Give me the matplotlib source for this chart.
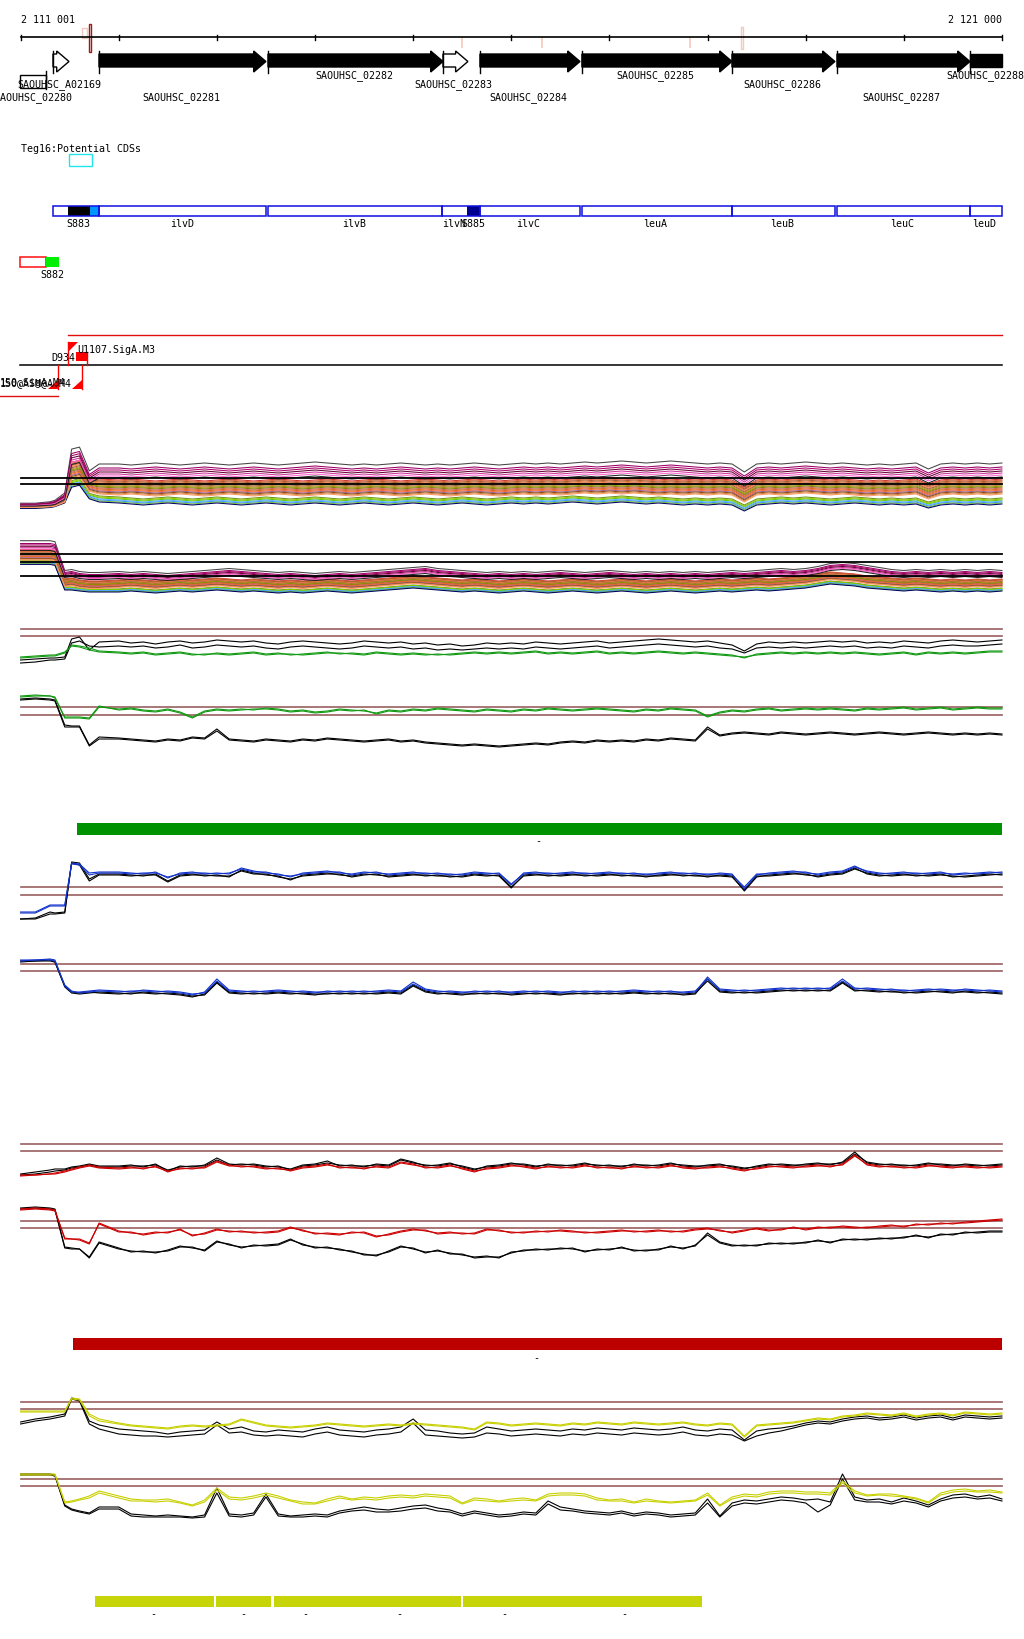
import matplotlib
matplotlib.use("Agg")
import matplotlib.pyplot as plt
from matplotlib.patches import Polygon, Rectangle

# ======================= DATA =======================
REGION_START = 2111001
REGION_END = 2121000
ruler_ticks = [2111001, 2112000, 2113000, 2114000, 2115000, 2116000, 2117000,
               2118000, 2119000, 2120000, 2121000]
ruler_labels = ["2 111 001", "2 121 000"]

gene_names = ["SAOUHSC_A02169", "SAOUHSC_02281", "SAOUHSC_02282", "SAOUHSC_02283",
              "SAOUHSC_02284", "SAOUHSC_02285", "SAOUHSC_02286", "SAOUHSC_02287",
              "SAOUHSC_02288"]
gene_starts = [2111330, 2111799, 2113521, 2115304, 2115681, 2116720, 2118249, 2119319, 2120674]
gene_ends = [2111493, 2113500, 2115304, 2115558, 2116700, 2118249, 2119298, 2120674, 2121000]
gene_filled = [False, True, True, False, True, True, True, True, True]
gene_head = [True, True, True, True, True, True, True, True, False]
gene_label_pos = [2111391, 2112636, 2114399, 2115408, 2116172, 2117466, 2118760, 2119973, 2120830]
gene_label_row = [1, 2, 0, 1, 2, 0, 1, 2, 0]
partial_gene = "SAOUHSC_02280"
partial_start, partial_end, partial_label_pos = 2110994, 2111259, 2111126

teg_title = "Teg16:Potential CDSs"
teg_names = ["", "ilvD", "ilvB", "ilvN", "ilvC", "leuA", "leuB", "leuC", "leuD"]
teg_starts = [2111330, 2111799, 2113521, 2115294, 2115681, 2116720, 2118249, 2119319, 2120674]
teg_ends = [2111799, 2113500, 2115294, 2115681, 2116700, 2118249, 2119298, 2120674, 2121000]
teg_label_pos = [0, 2112646, 2114399, 2115416, 2116172, 2117466, 2118760, 2119983, 2120819]
srna_names = ["S883", "", "S885"]
srna_starts = [2111483, 2111707, 2115548]
srna_ends = [2111707, 2111799, 2115681]
srna_colors = ["#000000", "#0096FF", "#000090"]
srna_label_pos = [2111585, 0, 2115610]
cds_box = (2111493, 2111727)
s882_red = (2110994, 2111259)
s882_green = (2111259, 2111391)
s882_label_pos = 2111320

prom_labels = ["U1107.SigA.M3", "D934", "150.SigA.M4", "1S0@ASM@A.M4"]

ruler_marks_pale = [(2111625, 2111677), (2115488, 2115508), (2116303, 2116323),
                    (2117811, 2117831), (2118336, 2118366)]
ruler_mark_dark = (2111697, 2111717)

green_bar = (2111575, 2121000)
red_bar = (2111534, 2121000)
yellow_bars = [(2111758, 2112971), (2112991, 2113552), (2113582, 2115488), (2115508, 2117943)]
yellow_dash_pos = [2112350, 2113267, 2113899, 2114857, 2115927, 2117150]
green_dash_pos = 2116275
red_dash_pos = 2116254

# signal profiles are sampled at these genome positions (82 windows)
grid_bp = [2111000, 2111150, 2111300, 2111350, 2111450, 2111520, 2111600, 2111700, 2111800,
           2112000, 2112125, 2112250, 2112375, 2112500, 2112625, 2112750, 2112875, 2113000, 2113125,
           2113250, 2113375, 2113500, 2113625, 2113750, 2113875, 2114000, 2114125, 2114250, 2114375,
           2114500, 2114625, 2114750, 2114875, 2115000, 2115125, 2115250, 2115375, 2115500, 2115625,
           2115750, 2115875, 2116000, 2116125, 2116250, 2116375, 2116500, 2116625, 2116750, 2116875,
           2117000, 2117125, 2117250, 2117375, 2117500, 2117625, 2117750, 2117875, 2118000, 2118125,
           2118250, 2118375, 2118500, 2118625, 2118750, 2118875, 2119000, 2119125, 2119250, 2119375,
           2119500, 2119625, 2119750, 2119875, 2120000, 2120125, 2120250, 2120375, 2120500, 2120625,
           2120750, 2120875, 2121000]

# ---- track 1 / 2 : many conditions, three level groups ----
t1_hi = [14,14,15,16,22,60,62,40,46] + [
    46,45,46,47,46,45,46,47,46,45, 46,47,46,45,46,47,48,47,46,45,
    46,45,46,47,46,45,46,45,46,47, 46,45,46,47,46,47,46,47,48,47,
    48,49,48,47,48,49,48,47,46,47, 46,38,46,47,46,47,48,47,46,47,
    46,45,46,45,46,47,41,46,47,46, 47,46,47]
t1_mid = [13,13,14,15,20,48,50,34,32] + [
    31,32,31,30,31,32,31,30,31,32, 31,30,31,32,31,30,31,32,31,30,
    31,32,31,30,31,32,31,30,31,32, 31,30,31,32,31,32,31,32,33,32,
    33,32,33,32,31,32,31,32,31,32, 31,24,31,32,31,32,33,32,31,32,
    31,30,31,30,31,32,27,31,32,31, 32,31,32]
t1_lo = [11,11,12,13,17,34,36,22,19] + [
    18,17,16,17,18,17,16,17,18,17, 16,17,18,17,16,17,18,17,16,17,
    18,17,16,17,18,17,16,17,18,17, 16,17,18,17,18,17,18,19,18,17,
    18,19,18,17,18,17,16,17,16,17, 16,10,16,17,18,17,18,17,16,17,
    18,17,16,17,16,17,13,16,17,16, 17,16,17]
t1_spread = [0.2, 0.2, 0.25, 0.3, 0.45, 1.1, 1.1, 0.9, 1.0] + [1.0] * 73
t2_hi = [52,52,52,51,24,25,23,22,22] + [
    23,22,23,22,21,22,23,24,25,26, 25,24,23,22,23,22,21,22,23,22,
    23,24,25,26,27,28,26,25,24,23, 22,23,22,23,22,23,24,23,22,23,
    24,23,22,23,22,23,22,23,22,23, 24,23,24,25,26,25,26,28,31,32,
    31,29,27,25,24,25,24,25,24,25, 24,25,24]
t2_mid = [44,44,44,43,16,17,15,14,14] + [
    15,16,15,14,15,16,15,16,17,16, 15,16,15,14,15,14,15,16,15,14,
    15,16,17,18,19,18,17,16,15,16, 15,14,15,16,15,14,15,16,15,14,
    15,16,15,14,15,16,15,14,15,16, 15,16,17,16,17,18,19,21,23,22,
    21,19,18,17,16,17,16,15,16,15, 16,15,16]
t2_lo = [36,36,36,35,10,10,9,8,8] + [
    8,9,8,7,8,9,8,9,10,9, 8,9,8,7,8,7,8,9,8,7,
    8,9,10,11,12,11,10,9,8,9, 8,7,8,9,8,7,8,9,8,7,
    8,9,8,7,8,9,8,7,8,9, 8,9,10,9,10,11,12,14,16,15,
    14,12,11,10,9,10,9,8,9,8, 9,8,9]
t2_spread = [0.7, 0.7, 0.7, 0.7] + [0.5] * 78
hi_offsets = [9, 5, 3, 1, -1, -3, -5]
hi_colors = ['#454545', '#990066', '#B0006A', '#660033', '#CC3399', '#FF66CC', '#222222']
mid_offsets = [8, 7, 6, 5, 4, 3, 2, 1, 0, -1, -2, -3, -4, -5, -6, -7]
mid_colors = ['#CC3333', '#E0603A', '#A05A2C', '#CC6633', '#FF7F50', '#996633', '#C08040',
              '#999900', '#808000', '#CC6666', '#D2691E', '#FF6633', '#996699', '#8B4513',
              '#CD853F', '#FF9966']
lo_offsets = [4, 3, 2, 1, 0, -1, -2]
lo_colors = ['#6B8E23', '#99CC00', '#66CC00', '#66B2FF', '#3399FF', '#7FBF3F', '#000066']
ref1 = [41, 35]
ref2 = [45, 37, 23]

# ---- track 3 / 4 : green condition vs black ----
t3_black_a = [19,20,21,21,22,40,42,29,37] + [
    38,36,37,35,37,38,36,37,39,38, 37,38,36,35,37,38,37,36,35,36,
    38,37,36,37,35,36,34,35,33,34, 36,35,36,35,37,36,35,36,37,38,
    36,37,38,39,40,39,38,37,38,36, 34,28,35,37,36,37,36,37,38,37,
    38,36,37,36,38,37,36,38,39,38, 37,38,39]
t3_black_b = [16,17,19,19,20,36,38,33,32] + [
    33,32,33,31,32,34,31,32,34,33, 32,33,31,30,32,33,32,31,30,31,
    33,32,31,32,30,31,29,30,29,30, 31,30,31,30,32,31,30,31,32,33,
    31,32,33,34,35,34,33,32,33,31, 30,26,31,32,31,32,31,32,33,32,
    33,31,32,31,33,32,31,33,34,33, 33,34,35]
t3_green_a = [21,22,23,23,26,34,33,31,28] + [
    27,26,27,25,26,27,25,24,26,25, 26,27,25,26,24,25,26,27,25,26,
    25,27,26,25,26,25,24,25,26,27, 26,27,26,27,28,26,27,26,27,28,
    26,27,26,27,28,27,26,27,26,25, 24,21,25,26,27,26,27,26,27,26,
    27,26,25,26,27,25,27,26,27,26, 27,28,28]
t3_green_b = [22,23,24,24,27,33,32,29,27] + [
    26,25,26,24,25,26,24,25,25,24, 25,26,24,25,25,24,25,26,26,25,
    24,26,25,24,25,24,25,24,25,26, 25,26,25,26,27,25,26,25,26,27,
    25,26,25,26,27,26,25,26,25,24, 23,22,24,25,26,25,26,25,26,25,
    26,25,24,25,26,24,26,25,26,25, 26,27,27]
t3_ref = [50, 43]
t4_green_a = [53,54,53,52,31,31,31,30,42] + [
    40,41,39,38,40,37,32,38,40,39, 40,39,41,40,38,39,37,38,40,39,
    38,36,39,38,40,39,41,40,39,38, 40,39,38,40,39,41,40,39,40,41,
    40,39,38,40,39,41,40,39,33,37, 39,38,40,41,39,40,41,40,41,40,
    39,41,40,41,42,40,41,42,40,41, 42,41,41]
t4_green_b = [52,53,53,51,32,32,32,31,43] + [
    39,40,38,37,39,36,31,37,39,38, 39,40,40,39,37,38,36,37,39,38,
    39,35,38,37,39,38,40,39,38,37, 39,38,37,39,38,40,39,38,39,40,
    39,38,37,39,38,40,39,38,32,36, 38,37,39,40,38,39,40,39,40,39,
    38,40,39,40,41,39,40,41,39,40, 41,40,40]
t4_black_a = [50,51,50,49,24,23,23,4,12] + [
    11,10,9,8,10,9,12,11,20,10, 9,8,10,9,8,10,9,11,10,9,
    8,9,10,8,9,7,6,5,4,5, 4,3,4,5,6,5,7,8,7,9,
    8,9,8,10,9,11,10,9,22,14, 16,17,16,15,17,16,15,16,17,16,
    15,16,17,16,15,16,17,16,15,16, 15,16,15]
t4_black_b = [49,50,49,48,22,22,22,3,10] + [
    10,9,8,7,9,8,11,10,18,9, 8,7,9,8,7,9,8,10,9,8,
    7,8,9,7,8,6,5,4,3,4, 3,2,3,4,5,4,6,7,6,8,
    7,8,7,9,8,10,9,8,20,13, 15,16,15,14,16,15,14,15,16,15,
    14,15,16,15,14,15,16,15,14,15, 14,15,14]
t4_ref = [42, 34]

# ---- track 5 / 6 : blue condition vs black ----
t5_blue_a = [17,17,24,24,24,66,65,56,57] + [
    57,56,55,57,51,56,57,55,56,55, 61,58,56,55,52,56,57,58,56,55,
    57,56,55,56,57,55,56,54,55,57, 56,55,44,56,57,55,56,57,55,56,
    57,55,56,54,56,57,55,56,54,56, 55,40,54,56,57,58,56,55,57,58,
    63,57,55,56,57,55,56,57,54,55, 56,57,56]
t5_blue_b = [16,16,23,23,23,65,64,54,56] + [
    56,55,56,56,52,55,56,56,55,56, 60,57,57,54,53,55,56,57,57,54,
    56,57,54,55,56,56,55,55,54,56, 55,56,45,55,56,56,55,56,56,55,
    56,56,55,55,55,56,56,55,55,55, 54,42,55,55,56,57,57,54,56,57,
    62,58,56,55,56,56,55,56,55,56, 55,56,57]
t5_black_a = [10,11,17,16,17,67,66,50,55] + [
    55,54,53,55,48,54,55,53,54,52, 59,56,54,53,49,54,55,56,54,53,
    55,54,53,54,55,53,54,52,53,55, 54,53,41,54,55,53,54,55,53,54,
    55,53,54,52,54,55,53,54,52,54, 53,38,52,54,55,56,54,53,55,56,
    61,55,53,54,55,53,54,55,52,53, 54,55,54]
t5_black_b = [10,10,15,15,16,66,64,48,54] + [
    54,53,54,54,47,53,54,54,53,53, 58,55,55,52,50,53,54,55,55,52,
    54,55,52,53,54,54,53,53,52,54, 53,54,42,53,54,54,53,54,54,53,
    54,54,53,53,53,54,54,53,53,53, 52,39,53,53,54,55,55,52,54,55,
    60,56,54,53,54,54,53,54,53,52, 53,54,55]
t5_ref = [42, 34]
t6_blue_a = [49,49,50,49,23,17,17,18,19] + [
    18,17,19,18,17,16,14,17,30,19, 18,17,18,19,18,17,16,18,17,18,
    17,18,19,18,27,20,18,17,16,18, 17,18,16,17,18,17,16,18,17,18,
    17,18,19,18,17,18,16,17,32,20, 19,18,19,20,21,20,21,20,21,30,
    21,20,19,20,18,19,20,19,18,20, 19,18,17]
t6_blue_b = [48,49,49,48,24,18,16,17,18] + [
    17,18,18,17,18,17,15,16,28,18, 17,18,17,18,17,18,17,17,18,17,
    18,17,18,17,25,19,17,18,17,17, 18,17,17,18,17,18,17,17,18,17,
    18,17,18,17,18,17,17,18,30,19, 18,19,18,19,20,21,20,21,20,28,
    20,21,20,19,19,18,19,20,19,19, 18,19,18]
t6_black_a = [48,48,49,47,22,16,15,16,17] + [
    16,15,17,16,15,14,12,15,27,17, 16,15,16,17,16,15,14,16,15,16,
    15,16,17,16,24,18,16,15,14,16, 15,16,14,15,16,15,14,16,15,16,
    15,16,17,16,15,16,14,15,30,18, 17,16,17,18,19,18,19,18,19,27,
    19,18,17,18,16,17,18,17,16,18, 17,16,15]
t6_black_b = [47,48,48,47,23,17,16,17,16] + [
    15,16,16,15,16,15,13,14,26,16, 15,16,15,16,15,16,15,15,16,15,
    16,15,16,15,23,17,15,16,15,15, 16,15,15,16,15,16,15,15,16,15,
    16,15,16,15,16,15,15,16,28,17, 16,17,16,17,18,19,18,19,18,26,
    18,19,18,17,17,16,17,18,17,17, 16,17,16]
t6_ref = [45, 38]

# ---- track 7 / 8 : red condition vs black ----
t7_red_a = [14,14,15,16,18,20,22,24,22] + [
    21,22,20,23,17,21,20,22,28,24, 22,23,21,20,19,22,23,25,21,22,
    20,23,22,27,25,21,22,24,20,17, 21,22,24,22,20,23,21,22,24,21,
    22,20,23,21,22,24,21,20,22,23, 20,18,21,23,22,21,23,24,22,25,
    34,24,22,23,21,22,24,22,21,23, 22,21,22]
t7_red_b = [13,14,15,15,17,19,21,23,21] + [
    20,21,21,22,18,20,21,21,27,23, 23,22,20,21,18,21,22,24,22,21,
    21,22,21,26,24,22,21,23,21,18, 20,21,23,23,21,22,22,21,23,22,
    21,21,22,22,21,23,22,21,21,22, 21,19,20,22,23,22,22,23,23,24,
    33,25,23,22,22,21,23,23,22,22, 21,22,23]
t7_black_a = [15,17,19,20,20,22,23,25,23] + [
    23,24,22,25,18,23,22,24,31,25, 24,25,23,22,20,24,25,28,23,24,
    22,25,24,30,27,23,24,26,22,19, 23,24,26,24,22,25,23,24,26,23,
    24,22,25,23,24,26,23,22,24,25, 22,20,23,25,24,23,25,26,24,27,
    37,26,24,25,23,24,26,24,23,25, 24,23,24]
t7_black_b = [14,15,17,18,19,21,22,24,22] + [
    22,23,23,24,19,22,23,23,29,24, 25,24,22,23,19,23,24,26,24,23,
    23,24,23,29,26,24,23,25,23,20, 22,23,25,25,23,24,24,23,25,24,
    23,23,24,24,23,25,24,23,23,24, 23,21,22,24,25,24,24,25,25,26,
    35,27,25,24,24,23,25,25,24,24, 23,24,25]
t7_ref = [45, 38]
t8_red_a = [60,61,60,59,30,30,29,25,46] + [
    38,36,35,37,36,40,33,36,40,37, 38,36,37,38,42,38,36,35,34,37,
    36,32,35,38,40,38,36,37,35,36, 40,38,37,36,38,37,39,38,36,37,
    38,39,37,38,39,37,38,40,41,38, 37,39,40,38,40,41,40,42,41,43,
    42,41,43,44,42,45,44,46,45,47, 48,49,50]
t8_red_b = [59,60,59,58,31,30,30,26,45] + [
    37,37,34,36,37,39,34,35,39,38, 37,37,36,37,41,39,35,36,35,36,
    37,33,34,37,39,39,35,36,36,35, 39,39,36,37,37,38,38,37,37,36,
    37,38,38,37,38,38,37,39,40,39, 36,38,41,39,39,42,39,41,42,42,
    41,42,42,43,43,44,45,45,46,46, 47,48,49]
t8_black_a = [61,62,61,60,22,21,20,12,27] + [
    21,17,18,16,19,23,21,19,28,24, 22,23,24,25,30,24,22,21,20,17,
    15,13,18,23,20,17,18,16,14,12, 13,11,17,18,20,19,21,20,18,19,
    20,21,19,18,20,22,21,23,36,27, 24,23,24,25,26,25,27,28,27,29,
    30,29,31,30,32,33,32,34,35,36, 37,38,38]
t8_black_b = [60,61,60,59,21,20,20,11,26] + [
    20,18,17,17,18,22,22,18,27,25, 21,24,23,24,29,25,21,22,19,18,
    14,14,17,22,21,16,19,15,15,11, 12,12,16,19,19,20,20,21,17,20,
    19,22,18,19,19,23,20,24,34,26, 23,24,23,26,25,26,26,29,26,30,
    29,30,30,31,31,34,31,35,34,37, 36,37,37]
t8_ref = [48, 41]

# ---- track 9 / 10 : yellow condition vs black ----
t9_yel_a = [38,38,38,38,38,51,50,35,30] + [
    26,24,23,22,21,23,24,23,24,25, 30,27,24,23,22,23,24,26,25,24,
    23,24,25,24,26,25,24,23,22,20, 27,26,24,25,26,25,24,26,25,27,
    26,25,27,26,25,26,27,25,24,26, 25,13,24,25,26,27,29,31,30,33,
    34,36,35,34,36,33,35,36,34,37, 36,35,36]
t9_yel_b = [37,37,37,37,37,50,49,33,28] + [
    25,23,22,21,20,22,23,22,23,24, 29,26,23,22,21,22,23,25,24,23,
    22,23,24,23,25,24,23,22,21,19, 26,25,23,24,25,24,23,25,24,26,
    25,24,26,25,24,25,26,24,23,25, 24,12,23,24,25,26,28,30,29,32,
    33,35,34,33,35,32,34,35,33,36, 35,34,35]
t9_black_a = [27,30,32,33,35,51,49,28,24] + [
    20,19,18,17,15,17,18,19,27,20, 22,18,17,19,18,17,20,22,19,18,
    17,19,20,22,30,19,18,16,15,16, 22,20,18,19,20,19,18,20,19,21,
    20,19,21,20,19,20,22,19,18,20, 19,9,18,20,21,23,26,28,27,30,
    32,33,31,32,34,31,33,34,31,34, 33,32,33]
t9_black_b = [25,28,30,31,33,50,48,25,20] + [
    15,14,13,13,12,13,14,15,24,16, 17,14,13,14,13,12,15,17,14,13,
    12,14,15,17,26,14,13,12,11,12, 16,15,13,14,15,14,13,15,14,16,
    15,14,16,15,14,15,17,14,13,15, 14,8,13,16,18,21,24,26,25,28,
    30,31,29,30,32,29,31,32,29,32, 31,30,31]
t9_ref = [47, 40]
t10_yel_a = [55,55,55,55,27,28,30,33,38] + [
    33,30,29,29,30,27,24,29,41,32, 31,33,36,33,29,27,26,30,33,30,
    32,31,33,34,33,35,34,33,26,31, 30,28,30,31,29,35,36,36,35,31,
    29,30,27,30,28,27,28,29,36,24, 32,35,34,37,38,38,37,37,36,48,
    38,34,35,35,33,31,27,36,39,40, 38,39,37]
t10_yel_b = [54,54,54,54,26,27,29,31,36] + [
    31,28,28,27,28,26,23,27,39,30, 29,31,34,31,28,25,25,28,31,29,
    30,29,31,32,31,33,32,31,25,29, 28,27,28,29,28,33,34,34,33,29,
    28,28,26,28,27,26,27,28,34,23, 30,33,32,35,36,36,35,35,34,46,
    36,33,34,33,32,30,26,34,37,38, 37,37,36]
t10_black_a = [55,55,55,54,24,20,18,16,22] + [
    22,15,14,13,14,13,12,14,41,15, 14,16,35,15,13,14,15,14,18,20,
    22,20,19,21,23,24,21,19,15,18, 16,14,15,17,16,28,22,20,18,17,
    16,18,15,17,16,14,15,16,30,13, 26,29,28,30,32,31,29,30,27,55,
    32,29,30,27,31,28,24,30,34,35, 32,34,30]
t10_black_b = [54,54,54,53,23,19,17,15,20] + [
    20,13,12,12,12,12,11,12,36,13, 12,14,32,13,12,12,13,12,16,18,
    19,17,17,18,20,21,18,17,13,16, 14,12,13,15,14,25,19,18,16,15,
    14,16,13,15,14,12,13,14,26,12, 23,26,25,27,29,28,26,17,24,50,
    29,27,27,25,28,26,22,28,31,32, 30,31,28]
t10_ref = [50, 43]

# ======================= LAYOUT / STYLE =======================
W, H = 1024, 1640
X0_PIX = 20.7
BP_PER_PX = 10.19
XMIN = REGION_START - X0_PIX * BP_PER_PX
XMAX = REGION_START + (W - X0_PIX) * BP_PER_PX
FONT = dict(family="DejaVu Sans Mono", fontsize=7.2)
THR = "#9A5F5F"
LW = 0.8

fig = plt.figure(figsize=(W / 100, H / 100), dpi=100)
ax0 = fig.add_axes([0, 0, 1, 1])
ax0.set_xlim(XMIN, XMAX)
ax0.set_ylim(H, 0)
ax0.axis("off")

# ---- ruler ----
ax0.plot([REGION_START, REGION_END], [38, 38], color="black", lw=1.2)
for t in ruler_ticks:
    ax0.plot([t, t], [35.5, 41], color="black", lw=1)
ax0.text(REGION_START, 20, ruler_labels[0], ha="left", va="center", **FONT)
ax0.text(REGION_END, 20, ruler_labels[1], ha="right", va="center", **FONT)
for i, (s, e) in enumerate(ruler_marks_pale):
    if i == 0:
        ax0.add_patch(Rectangle((s, 29), e - s, 10, fill=False, ec="#F2C9BC", lw=1))
    elif i == len(ruler_marks_pale) - 1:
        ax0.add_patch(Rectangle((s, 28), e - s, 22, fill=False, ec="#F2C9BC", lw=1))
    else:
        ax0.add_patch(Rectangle((s, 38), e - s, 11, fc="#F4D2C6", ec="none"))
ax0.add_patch(Rectangle((ruler_mark_dark[0], 25), ruler_mark_dark[1] - ruler_mark_dark[0], 28,
                        fill=False, ec="#A01818", lw=1))

# ---- genes ----
HL = 125
row_y = [76, 85, 97.5]
for name, s, e, f, hd, lp, r in zip(gene_names, gene_starts, gene_ends, gene_filled,
                                    gene_head, gene_label_pos, gene_label_row):
    if hd:
        hs = max(s, e - HL)
        pts = [(s, 55), (hs, 55), (hs, 52), (e, 62.5), (hs, 73), (hs, 68), (s, 68)]
    else:
        pts = [(s, 55), (e, 55), (e, 68), (s, 68)]
    ax0.add_patch(Polygon(pts, closed=True, fc="black" if f else "white", ec="black", lw=1))
    ax0.plot([s, s], [51.5, 73.5], color="black", lw=1)
    ax0.text(lp, row_y[r], name, ha="center", va="center", **FONT)
ax0.add_patch(Rectangle((partial_start, 76), partial_end - partial_start, 13, fill=False,
                        ec="black", lw=1))
ax0.plot([partial_end, partial_end], [72, 90], color="black", lw=1)
ax0.text(partial_label_pos, row_y[2], partial_gene, ha="center", va="center", **FONT)

# ---- Teg16 ----
ax0.text(REGION_START, 149, teg_title, ha="left", va="center", **FONT)
ax0.add_patch(Rectangle((cds_box[0], 155), cds_box[1] - cds_box[0], 12, fill=False,
                        ec="#22E5EE", lw=1))
for s, e, c in zip(srna_starts, srna_ends, srna_colors):
    ax0.add_patch(Rectangle((s, 207), e - s, 10, fc=c, ec="none"))
for s, e, n, lp in zip(teg_starts, teg_ends, teg_names, teg_label_pos):
    ax0.add_patch(Rectangle((s, 207), e - s, 10, fill=False, ec="#1010E0", lw=1.1))
    if n:
        ax0.text(lp, 224, n, ha="center", va="center", **FONT)
for n, lp in zip(srna_names, srna_label_pos):
    if n:
        ax0.text(lp, 224, n, ha="center", va="center", **FONT)
ax0.add_patch(Rectangle((s882_red[0], 258), s882_red[1] - s882_red[0], 10, fill=False,
                        ec="#FF1010", lw=1.1))
ax0.add_patch(Rectangle((s882_green[0], 258), s882_green[1] - s882_green[0], 10,
                        fc="#00EE00", ec="none"))
ax0.text(s882_label_pos, 275, "S882", ha="center", va="center", **FONT)

# ---- promoters ----
RED = "#FF0000"
ax0.plot([2111483, REGION_END], [336, 336], color="#E01010", lw=1)
ax0.plot([partial_start, REGION_END], [366, 366], color="black", lw=1.1)
ax0.plot([XMIN, 2111381], [397, 397], color="#E01010", lw=1)
ax0.add_patch(Polygon([(2111483, 343), (2111585, 343), (2111483, 353)], fc=RED, ec="none"))
ax0.add_patch(Rectangle((2111565, 353), 112, 9, fc=RED, ec="none"))
ax0.plot([2111483, 2111483], [343, 366], color=RED, lw=1)
ax0.plot([2111677, 2111677], [353, 366], color=RED, lw=1)
ax0.plot([2111381, 2111381], [366, 390], color=RED, lw=1)
ax0.plot([2111626, 2111626], [366, 390], color=RED, lw=1)
ax0.add_patch(Polygon([(2111381, 381), (2111381, 390), (2111279, 390)], fc=RED, ec="none"))
ax0.add_patch(Polygon([(2111626, 381), (2111626, 390), (2111524, 390)], fc=RED, ec="none"))
ax0.text(2111575, 350, prom_labels[0], ha="left", va="center", **FONT)
ax0.text(2111554, 358, prom_labels[1], ha="right", va="center", **FONT)
ax0.text(XMIN, 383, prom_labels[2], ha="left", va="center", **FONT)
ax0.text(XMIN, 383, prom_labels[3], ha="left", va="center", **FONT)

# ---- feature bars ----
ax0.add_patch(Rectangle((green_bar[0], 824), green_bar[1] - green_bar[0], 12, fc="#009200", ec="none"))
ax0.text(green_dash_pos, 841, "-", ha="center", va="center", **FONT)
ax0.add_patch(Rectangle((red_bar[0], 1339), red_bar[1] - red_bar[0], 12, fc="#BC0000", ec="none"))
ax0.text(red_dash_pos, 1358, "-", ha="center", va="center", **FONT)
for s, e in yellow_bars:
    ax0.add_patch(Rectangle((s, 1597), e - s, 11, fc="#C6D408", ec="none"))
for p in yellow_dash_pos:
    ax0.text(p, 1614, "-", ha="center", va="center", **FONT)


# ---- data tracks ----
def track(top, bottom):
    ax = fig.add_axes([0, 1 - bottom / H, 1, (bottom - top) / H])
    ax.set_xlim(XMIN, XMAX)
    ax.set_ylim(0, bottom - top)
    ax.axis("off")
    return ax


def refs(ax, levels, color, lw=1.0):
    for v in levels:
        ax.plot([REGION_START, REGION_END], [v, v], color=color, lw=lw)


def multi(ax, hi, mid, lo, spread):
    for base, offs, cols in ((lo, lo_offsets, lo_colors), (mid, mid_offsets, mid_colors),
                             (hi, hi_offsets, hi_colors)):
        for off, c in zip(offs, cols):
            ax.plot(grid_bp, [b + off * s for b, s in zip(base, spread)], color=c, lw=0.75)


ax1 = track(440, 520)
multi(ax1, t1_hi, t1_mid, t1_lo, t1_spread)
refs(ax1, ref1, "black", 1.3)
ax2 = track(540, 600)
multi(ax2, t2_hi, t2_mid, t2_lo, t2_spread)
refs(ax2, ref2, "black", 1.3)

GREEN, BLUE, REDL, YEL = "#119911", "#1133CC", "#CC0000", "#C8D000"
pairs = [
    ((620, 680), t3_ref, [(t3_black_a, "black"), (t3_black_b, "black"), (t3_green_a, GREEN), (t3_green_b, GREEN)]),
    ((690, 750), t4_ref, [(t4_black_a, "black"), (t4_black_b, "black"), (t4_green_a, GREEN), (t4_green_b, GREEN)]),
    ((850, 930), t5_ref, [(t5_black_a, "black"), (t5_black_b, "black"), (t5_blue_a, BLUE), (t5_blue_b, BLUE)]),
    ((950, 1010), t6_ref, [(t6_black_a, "black"), (t6_black_b, "black"), (t6_blue_a, BLUE), (t6_blue_b, BLUE)]),
    ((1140, 1190), t7_ref, [(t7_black_a, "black"), (t7_black_b, "black"), (t7_red_a, REDL), (t7_red_b, REDL)]),
    ((1200, 1270), t8_ref, [(t8_black_a, "black"), (t8_black_b, "black"), (t8_red_a, REDL), (t8_red_b, REDL)]),
    ((1395, 1450), t9_ref, [(t9_black_a, "black"), (t9_black_b, "black"), (t9_yel_a, YEL), (t9_yel_b, YEL)]),
    ((1470, 1530), t10_ref, [(t10_black_a, "black"), (t10_black_b, "black"), (t10_yel_a, YEL), (t10_yel_b, YEL)]),
]
for (top, bottom), rl, series in pairs:
    ax = track(top, bottom)
    refs(ax, rl, THR, 1.2)
    for vals, c in series:
        ax.plot(grid_bp, vals, color=c, lw=LW)

fig.savefig("out.png", dpi=100)
